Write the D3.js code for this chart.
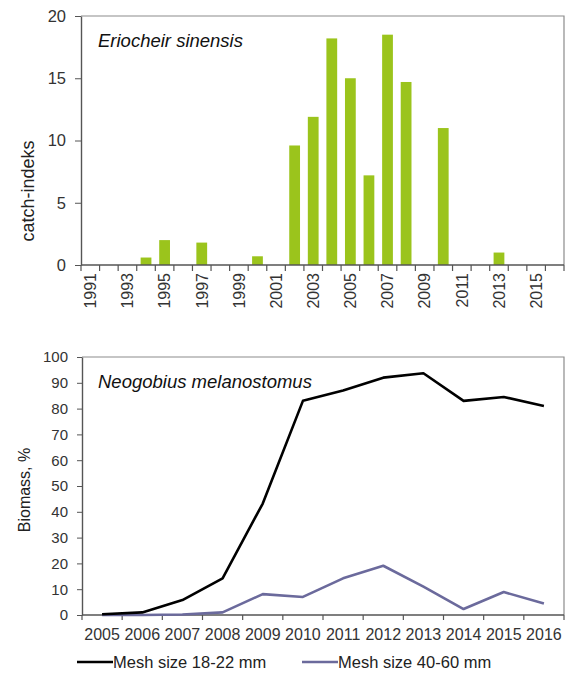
<!DOCTYPE html>
<html>
<head>
<meta charset="utf-8">
<script src="https://cdn.jsdelivr.net/npm/d3@7"></script>
<style>
  body { margin: 0; background: #fff; }
  svg { display: block; font-family: "Liberation Sans", Arial, sans-serif; }
  .axis path, .axis line { stroke: #555; }
  .axis text { fill: #333; }
</style>
</head>
<body>
<div class="chart"></div>
<script>
// top panel: Eriocheir sinensis catch index
var crabYears = ["1991","1992","1993","1994","1995","1996","1997","1998","1999","2000",
                 "2001","2002","2003","2004","2005","2006","2007","2008","2009","2010",
                 "2011","2012","2013","2014","2015","2016"];
var crabIndex = [0, 0, 0, 0.6, 2.0, 0, 1.8, 0, 0, 0.7,
                 0, 9.6, 11.9, 18.2, 15.0, 7.2, 18.5, 14.7, 0, 11.0,
                 0, 0, 1.0, 0, 0, 0];
var crabTicks = [0, 5, 10, 15, 20];

// bottom panel: Neogobius melanostomus biomass share
var gobyYears = ["2005","2006","2007","2008","2009","2010","2011","2012","2013","2014","2015","2016"];
var meshSmall = [0.3, 1.0, 5.8, 14.2, 43.2, 83.0, 87.0, 92.0, 93.7, 83.0, 84.5, 81.0];
var meshLarge = [0, 0, 0.2, 1.0, 8.1, 7.0, 14.2, 19.1, 11.0, 2.3, 8.9, 4.5];
var gobyTicks = [0, 10, 20, 30, 40, 50, 60, 70, 80, 90, 100];
var seriesNames = ["Mesh size 18-22 mm", "Mesh size 40-60 mm"];
var seriesColors = ["#000000", "#6b6a9c"];

var svg = d3.select(".chart").append("svg")
    .attr("width", 566)
    .attr("height", 675);

// ---------- top chart ----------
var t = {left: 81, right: 564, top: 16, bottom: 265};

var x1 = d3.scaleBand().domain(crabYears).range([t.left, t.right]).paddingInner(0.42).paddingOuter(0.21);
var y1 = d3.scaleLinear().domain([0, 20]).range([t.bottom, t.top]);

// frame (top + right)
svg.append("path")
    .attr("d", "M" + t.left + "," + t.top + "H" + t.right + "V" + t.bottom)
    .attr("fill", "none").attr("stroke", "#8c8c8c").attr("stroke-width", 1.2);

svg.selectAll(".bar")
    .data(crabIndex)
  .enter().append("rect")
    .attr("class", "bar")
    .attr("x", function(d, i) { return x1(crabYears[i]); })
    .attr("width", x1.bandwidth())
    .attr("y", function(d) { return y1(d); })
    .attr("height", function(d) { return t.bottom - y1(d); })
    .attr("fill", "#9bc41c");

var y1Axis = svg.append("g")
    .attr("class", "axis")
    .attr("transform", "translate(" + t.left + ",0)")
    .call(d3.axisLeft(y1).tickValues(crabTicks).tickSize(6).tickPadding(9).tickSizeOuter(0));
y1Axis.selectAll("text").style("font-size", "16.5px");
y1Axis.select(".domain").attr("stroke-width", 1.4);

// x axis: ticks on band boundaries, labels every other year
var step1 = x1.step();
var bounds1 = crabYears.map(function(d, i) { return t.left + i * step1; }).concat([t.right]);
var x1Axis = svg.append("g").attr("class", "axis");
x1Axis.append("line")
    .attr("x1", t.left).attr("x2", t.right)
    .attr("y1", t.bottom).attr("y2", t.bottom)
    .attr("stroke-width", 1.4);
x1Axis.selectAll(".tk")
    .data(bounds1)
  .enter().append("line")
    .attr("x1", function(d) { return d; }).attr("x2", function(d) { return d; })
    .attr("y1", t.bottom).attr("y2", t.bottom + 6)
    .attr("stroke-width", 1.2);
x1Axis.selectAll(".lbl")
    .data(crabYears.filter(function(d, i) { return i % 2 == 0; }))
  .enter().append("text")
    .attr("transform", function(d) {
        return "translate(" + (x1(d) + x1.bandwidth() / 2 + 5.8) + "," + (t.bottom + 8) + ") rotate(-90)";
    })
    .style("text-anchor", "end")
    .style("font-size", "16px")
    .text(function(d) { return d; });

svg.append("text")
    .attr("transform", "translate(34,191) rotate(-90)")
    .style("text-anchor", "middle")
    .style("font-size", "18px")
    .attr("fill", "#222")
    .text("catch-indeks");

svg.append("text")
    .attr("x", 98).attr("y", 47)
    .style("font-size", "18.5px")
    .style("font-style", "italic")
    .attr("fill", "#111")
    .text("Eriocheir sinensis");

// ---------- bottom chart ----------
var b = {left: 82, right: 564, top: 357, bottom: 615};

var x2 = d3.scaleBand().domain(gobyYears).range([b.left, b.right]);
var y2 = d3.scaleLinear().domain([0, 100]).range([b.bottom, b.top]);

svg.append("path")
    .attr("d", "M" + b.left + "," + b.top + "H" + b.right + "V" + b.bottom)
    .attr("fill", "none").attr("stroke", "#8c8c8c").attr("stroke-width", 1.2);

var y2Axis = svg.append("g")
    .attr("class", "axis")
    .attr("transform", "translate(" + b.left + ",0)")
    .call(d3.axisLeft(y2).tickValues(gobyTicks).tickSize(5).tickPadding(9).tickSizeOuter(0));
y2Axis.selectAll("text").style("font-size", "15px");
y2Axis.select(".domain").attr("stroke-width", 1.4);

var step2 = x2.step();
var bounds2 = gobyYears.map(function(d, i) { return b.left + i * step2; }).concat([b.right]);
var x2Axis = svg.append("g").attr("class", "axis");
x2Axis.append("line")
    .attr("x1", b.left).attr("x2", b.right)
    .attr("y1", b.bottom).attr("y2", b.bottom)
    .attr("stroke-width", 1.4);
x2Axis.selectAll(".tk")
    .data(bounds2)
  .enter().append("line")
    .attr("x1", function(d) { return d; }).attr("x2", function(d) { return d; })
    .attr("y1", b.bottom).attr("y2", b.bottom + 5)
    .attr("stroke-width", 1.2);
x2Axis.selectAll(".lbl")
    .data(gobyYears)
  .enter().append("text")
    .attr("x", function(d) { return x2(d) + x2.bandwidth() / 2; })
    .attr("y", b.bottom + 25)
    .style("text-anchor", "middle")
    .style("font-size", "16px")
    .text(function(d) { return d; });

var valueline = d3.line()
    .x(function(d, i) { return x2(gobyYears[i]) + x2.bandwidth() / 2; })
    .y(function(d) { return y2(d); });

[meshLarge, meshSmall].forEach(function(s, k) {
    var col = k == 0 ? seriesColors[1] : seriesColors[0];
    svg.append("path")
        .attr("d", valueline(s))
        .attr("fill", "none")
        .attr("stroke", col)
        .attr("stroke-width", 2.6)
        .attr("stroke-linejoin", "round");
});

svg.append("text")
    .attr("transform", "translate(30," + ((b.top + b.bottom) / 2 + 4) + ") rotate(-90)")
    .style("text-anchor", "middle")
    .style("font-size", "16px")
    .attr("fill", "#222")
    .text("Biomass, %");

svg.append("text")
    .attr("x", 98).attr("y", 388)
    .style("font-size", "18.5px")
    .style("font-style", "italic")
    .attr("fill", "#111")
    .text("Neogobius melanostomus");

// legend
var legendX = [77, 302];
var leg = svg.selectAll(".legend")
    .data(seriesNames)
  .enter().append("g")
    .attr("class", "legend")
    .attr("transform", function(d, i) { return "translate(" + legendX[i] + ",662)"; });
leg.append("line")
    .attr("x1", 0).attr("x2", 36)
    .attr("stroke", function(d, i) { return seriesColors[i]; })
    .attr("stroke-width", 2.6);
leg.append("text")
    .attr("x", 36).attr("dy", "0.35em")
    .style("font-size", "16.5px")
    .attr("fill", "#222")
    .text(function(d) { return d; });
</script>
</body>
</html>
